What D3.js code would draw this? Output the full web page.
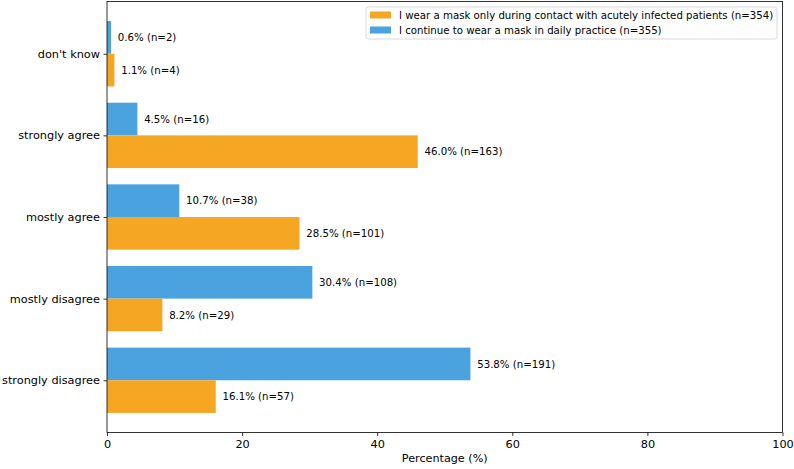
<!DOCTYPE html>
<html>
<head>
<meta charset="utf-8">
<script src="https://cdn.jsdelivr.net/npm/d3@7"></script>
<style>
  body { margin: 0; background: #fff; }
  text { font-family: "DejaVu Sans", sans-serif; fill: #000; }
</style>
</head>
<body>
<div id="chart"></div>
<script>
// categories, bottom to top
const categories = ["strongly disagree", "mostly disagree", "mostly agree", "strongly agree", "don't know"];
// I continue to wear a mask in daily practice (n=355)
const dailyPct = [53.8, 30.4, 10.7, 4.5, 0.6];
const dailyN = [191, 108, 38, 16, 2];
// I wear a mask only during contact with acutely infected patients (n=354)
const contactPct = [16.1, 8.2, 28.5, 46.0, 1.1];
const contactN = [57, 29, 101, 163, 4];
const xTicks = [0, 20, 40, 60, 80, 100];

const seriesNames = [
  "I wear a mask only during contact with acutely infected patients (n=354)",
  "I continue to wear a mask in daily practice (n=355)"
];
const orange = "#f5a623", blue = "#4aa3df";

const W = 794, H = 469;
const plot = { left: 107, right: 782.5, top: 1.5, bottom: 432.5 };

const svg = d3.select("#chart").append("svg")
  .attr("width", W).attr("height", H);

const x = d3.scaleLinear().domain([0, 100]).range([plot.left, plot.right]);
const y = d3.scaleLinear().domain([-0.64, 4.64]).range([plot.bottom, plot.top]);
const barH = 0.4;

const rows = categories.map((c, i) => ({
  cat: c, i: i,
  daily: dailyPct[i], dn: dailyN[i],
  contact: contactPct[i], cn: contactN[i]
}));

// blue bars (upper half of each group)
svg.selectAll(".daily").data(rows).join("rect")
  .attr("class", "daily")
  .attr("x", x(0))
  .attr("y", d => y(d.i + barH))
  .attr("width", d => x(d.daily) - x(0))
  .attr("height", d => y(d.i) - y(d.i + barH))
  .attr("fill", blue);

// orange bars (lower half)
svg.selectAll(".contact").data(rows).join("rect")
  .attr("class", "contact")
  .attr("x", x(0))
  .attr("y", d => y(d.i))
  .attr("width", d => x(d.contact) - x(0))
  .attr("height", d => y(d.i - barH) - y(d.i))
  .attr("fill", orange);

// value labels
svg.selectAll(".dlab").data(rows).join("text")
  .attr("class", "dlab")
  .attr("x", d => x(d.daily + 1))
  .attr("y", d => y(d.i + barH / 2))
  .attr("dy", "0.35em")
  .style("font-size", "10.2px")
  .text(d => `${d.daily.toFixed(1)}% (n=${d.dn})`);

svg.selectAll(".clab").data(rows).join("text")
  .attr("class", "clab")
  .attr("x", d => x(d.contact + 1))
  .attr("y", d => y(d.i - barH / 2))
  .attr("dy", "0.35em")
  .style("font-size", "10.2px")
  .text(d => `${d.contact.toFixed(1)}% (n=${d.cn})`);

// frame
svg.append("rect")
  .attr("x", plot.left).attr("y", plot.top)
  .attr("width", plot.right - plot.left).attr("height", plot.bottom - plot.top)
  .attr("fill", "none").attr("stroke", "#000").attr("stroke-width", 0.8);

// x axis
const xAxis = svg.append("g")
  .attr("transform", `translate(0,${plot.bottom})`)
  .call(d3.axisBottom(x).tickValues(xTicks).tickSize(3.5).tickPadding(3.5));
xAxis.select(".domain").remove();
xAxis.selectAll("text").style("font-size", "11.3px").style("font-family", "DejaVu Sans");
xAxis.selectAll("line").attr("stroke-width", 0.8);

// y axis
const yAxis = svg.append("g")
  .attr("transform", `translate(${plot.left},0)`)
  .call(d3.axisLeft(y).tickValues(d3.range(categories.length))
    .tickFormat(i => categories[i]).tickSize(3.5).tickPadding(3.5));
yAxis.select(".domain").remove();
yAxis.selectAll("text").style("font-size", "11.3px").style("font-family", "DejaVu Sans");
yAxis.selectAll("line").attr("stroke-width", 0.8);

// axis label
svg.append("text")
  .attr("x", (plot.left + plot.right) / 2).attr("y", 462)
  .attr("text-anchor", "middle")
  .style("font-size", "11.2px")
  .text("Percentage (%)");

// legend
const lg = svg.append("g");
lg.append("rect")
  .attr("x", 366).attr("y", 7).attr("width", 411).attr("height", 32)
  .attr("rx", 2.5)
  .attr("fill", "#fff").attr("fill-opacity", 0.8)
  .attr("stroke", "#d0d0d0").attr("stroke-width", 0.8);
[orange, blue].forEach((c, k) => {
  const cy = 15 + k * 15;
  lg.append("rect")
    .attr("x", 370).attr("y", cy - 3.5).attr("width", 21).attr("height", 7)
    .attr("fill", c);
  lg.append("text")
    .attr("x", 399).attr("y", cy).attr("dy", "0.35em")
    .style("font-size", "10.2px")
    .text(seriesNames[k]);
});
</script>
</body>
</html>
